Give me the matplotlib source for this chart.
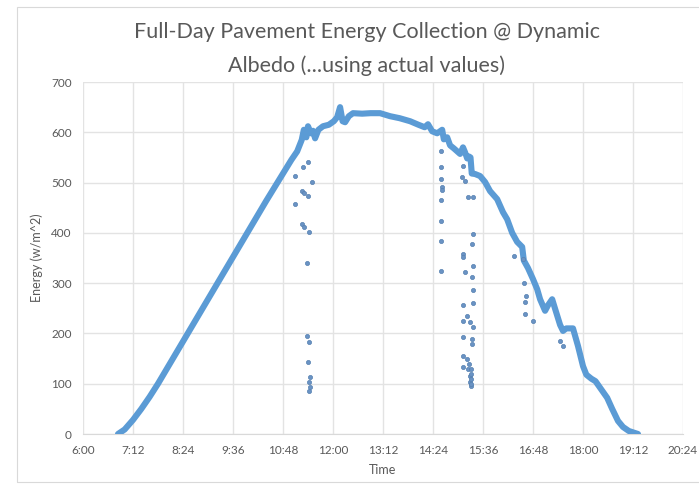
import matplotlib.pyplot as plt
from matplotlib.ticker import FuncFormatter
from matplotlib.patches import Rectangle

# Main energy curve: time of day (hours) and energy (w/m^2)
curve_hours = [6.84, 7.0, 7.2, 7.4, 7.6, 7.8, 8.0, 8.4, 8.8, 9.2, 9.6, 10.0,
               10.4, 10.8, 11.0, 11.14,
               11.25, 11.3, 11.36, 11.4, 11.47, 11.52, 11.57, 11.65, 11.76,
               11.9, 12.02, 12.1, 12.17, 12.23, 12.29, 12.38, 12.48, 12.7,
               12.9, 13.13, 13.37, 13.6, 13.85, 14.05, 14.2, 14.28, 14.38,
               14.5, 14.62, 14.66, 14.74, 14.81, 14.9, 15.05, 15.12, 15.17,
               15.22, 15.26, 15.3, 15.33, 15.41, 15.53, 15.65, 15.77, 15.94,
               16.08, 16.18, 16.3, 16.42, 16.54, 16.58, 16.68, 16.8, 16.9,
               16.97, 17.09, 17.16, 17.26, 17.33, 17.45, 17.52, 17.6, 17.76,
               17.88, 18.0, 18.08, 18.2, 18.3, 18.41, 18.58, 18.7, 18.84,
               18.96, 19.1, 19.32]
curve_energy = [0, 9, 28, 50, 74, 100, 128, 184, 240, 296, 352, 408,
                464, 518, 545, 562,
                585, 605, 590, 612, 598, 603, 588, 605, 612,
                615, 622, 630, 650, 622, 620, 632, 638, 637,
                638, 638, 632, 628, 622, 615, 610, 616, 602,
                598, 605, 586, 590, 574, 568, 557, 570, 560,
                548, 552, 550, 518, 517, 513, 501, 483, 467,
                441, 427, 400, 382, 372, 345, 330, 308, 288,
                268, 245, 256, 268, 249, 217, 205, 210, 210,
                175, 135, 118, 110, 105, 92, 72, 50, 26,
                14, 6, 0]

# Scattered readings that fall away from the main curve
dot_hours = [11.4, 11.28, 11.09, 11.5, 11.26, 11.3, 11.4, 11.09, 11.26, 11.3,
             11.42, 11.38, 11.38, 11.42, 11.4, 11.45, 11.42, 11.45, 11.42,
             14.59, 14.59, 14.59, 14.62, 14.62, 14.59, 14.59, 14.59, 14.59,
             15.12, 15.1, 15.17, 15.24, 15.36, 15.36, 15.34, 15.12, 15.12,
             15.36, 15.17, 15.34, 15.36, 15.36, 15.12, 15.22, 15.12, 15.29,
             15.36, 15.12, 15.34, 15.34, 15.12, 15.22, 15.12, 15.24, 15.29,
             15.29, 15.31, 15.27, 15.3, 15.3, 15.32, 15.3,
             16.34, 16.56, 16.61, 16.61, 16.8, 17.45, 17.52, 16.63, 16.58]
dot_energy = [541, 531, 513, 501, 483, 480, 473, 457, 417, 412,
              402, 340, 195, 183, 143, 113, 103, 93, 85,
              563, 531, 507, 491, 485, 465, 423, 384, 324,
              533, 511, 503, 471, 471, 398, 378, 358, 352,
              334, 322, 312, 286, 260, 256, 235, 225, 223,
              213, 193, 189, 179, 155, 149, 133, 129, 115,
              103, 95, 140, 130, 120, 110, 100,
              354, 348, 262, 239, 225, 185, 175, 275, 300]

x_ticks = [6.0, 7.2, 8.4, 9.6, 10.8, 12.0, 13.2, 14.4, 15.6, 16.8, 18.0, 19.2, 20.4]
y_ticks = [0, 100, 200, 300, 400, 500, 600, 700]

blue = '#5b9bd5'
text_gray = '#595959'
grid_gray = '#e3e3e3'


def hour_label(h, pos):
    minutes = int(round(h * 60))
    return '%d:%02d' % (minutes // 60, minutes % 60)


plt.rcParams['font.family'] = ['Lato', 'DejaVu Sans']

fig = plt.figure(figsize=(6.99, 4.94), dpi=100)
fig.patch.set_facecolor('white')

# chart frame
fig.patches.append(Rectangle((17 / 699, 12 / 494), 690 / 699, 475 / 494,
                             transform=fig.transFigure, fill=False,
                             edgecolor='#d9d9d9', linewidth=0.8))

ax = fig.add_axes([83 / 699, 60 / 494, 600 / 699, 352 / 494])

ax.plot(curve_hours, curve_energy, color=blue, linewidth=4.4,
        solid_joinstyle='round', solid_capstyle='round', zorder=3)
ax.plot(dot_hours, dot_energy, linestyle='none', marker='o', markersize=3.0,
        markerfacecolor='#6a93c4', markeredgecolor='#5580b0',
        markeredgewidth=0.5, zorder=4)

ax.set_xlim(6.0, 20.4)
ax.set_ylim(0, 700)
ax.set_xticks(x_ticks)
ax.set_yticks(y_ticks)
ax.xaxis.set_major_formatter(FuncFormatter(hour_label))
ax.grid(True, color=grid_gray, linewidth=1.0, zorder=0)
ax.set_axisbelow(True)

for side in ['top', 'right', 'left']:
    ax.spines[side].set_visible(False)
ax.spines['bottom'].set_color('#d9d9d9')
ax.tick_params(axis='both', length=0, colors=text_gray, labelsize=8.5, pad=8)

ax.set_xlabel('Time', color=text_gray, fontsize=9, labelpad=6)
ax.set_ylabel('Energy (w/m^2)', color=text_gray, fontsize=9, labelpad=6)

fig.text(0.525, 0.935, 'Full-Day Pavement Energy Collection @ Dynamic',
         ha='center', va='center', color=text_gray, fontsize=15.5)
fig.text(0.525, 0.868, 'Albedo (...using actual values)',
         ha='center', va='center', color=text_gray, fontsize=15.5)

fig.savefig('out.png', dpi=100)
